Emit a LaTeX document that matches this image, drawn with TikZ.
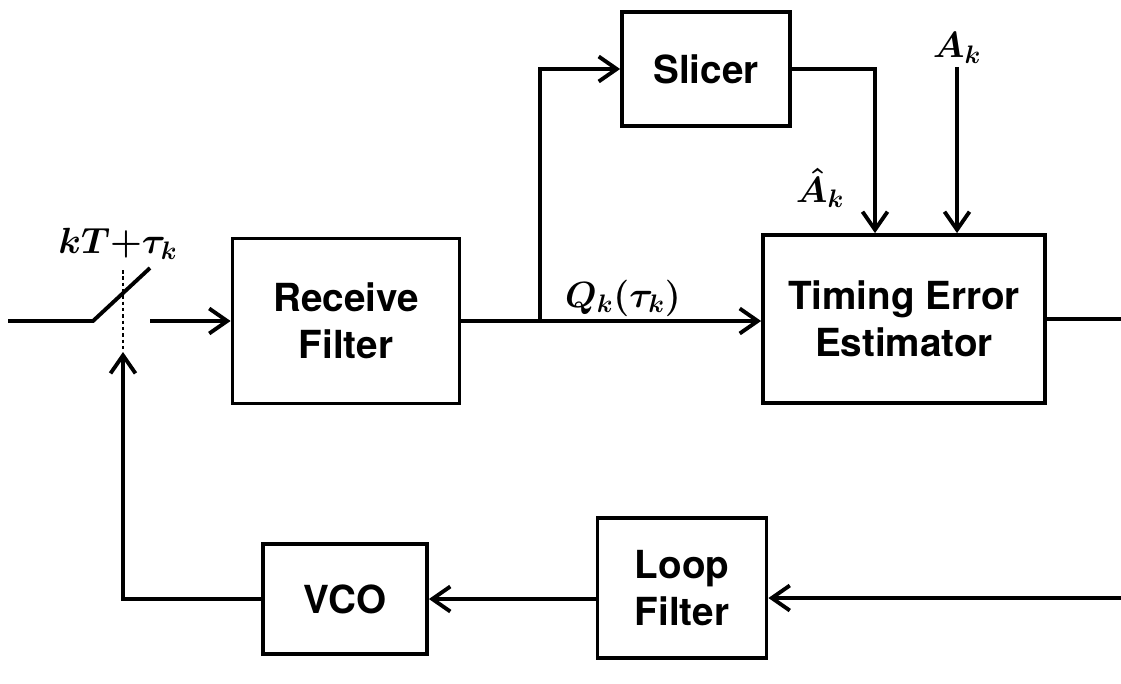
\documentclass[tikz,border=0pt]{standalone}
\usepackage{fontspec}
\setsansfont{TeX Gyre Heros}
\usetikzlibrary{arrows.meta}

\begin{document}
\begin{tikzpicture}[
  x=0.02cm, y=-0.02cm,
  line width=2.2pt,
  block/.style={
    rectangle,
    draw,
    line width=2.2pt,
    align=center,
    font=\sffamily\bfseries\fontsize{22}{27}\selectfont,
    inner sep=4pt
  },
  lbl/.style={font=\fontsize{20.74}{24}\selectfont\boldmath, inner sep=1pt},
  sig/.style={-{Straight Barb[length=3.6mm, width=5mm]}, line width=2.2pt}
]
  \useasboundingbox (0,0) rectangle (1121,683);

  \node[block, minimum width=4.54cm, minimum height=3.3cm] (rf) at (346,321) {Receive\\Filter};
  \node[block, minimum width=3.36cm, minimum height=2.28cm] (slicer) at (706,69) {Slicer};
  \node[block, minimum width=5.64cm, minimum height=3.36cm] (tee) at (904,319) {Timing Error\\Estimator};
  \node[block, minimum width=3.38cm, minimum height=2.8cm] (lf) at (682,588) {Loop\\Filter};
  \node[block, minimum width=3.28cm, minimum height=2.2cm] (vco) at (345,599) {VCO};

  \node[lbl] (sampl) at (118,244) {$kT{+}\tau_k$};
  \node[lbl] (qk) at (623,298) {$Q_k(\tau_k)$};
  \node[lbl] (ahat) at (820,188) {$\hat{A}_k$};
  \node[lbl] (ak) at (957,48) {$A_k$};

  \coordinate (swin) at (8,321);
  \coordinate (swa) at (93,321);
  \coordinate (swb) at (150,268);
  \coordinate (swtop) at (123,270);
  \coordinate (swbot) at (123,352);
  \coordinate (swout) at (150,321);
  \coordinate (br) at (540,321);
  \coordinate (outR) at (1121,319);
  \coordinate (inR) at (1121,598);

  % sampling switch
  \draw (swin) -- (swa) -- (swb);
  \draw[line width=1.6pt, dash pattern=on 2pt off 1.6pt] (swtop) -- (swbot);

  % forward path
  \draw[sig] (swout) -- (rf.west |- swout);
  \draw[sig] (rf.east |- br) -- (tee.west |- br);
  \draw[sig] (br) |- (slicer.west);
  \draw[sig] (slicer.east) -| ([xshift=-0.58cm]tee.north);
  \draw[sig] (ak.south) -- (ak.south |- tee.north);
  \draw (tee.east) -- (outR);

  % feedback path
  \draw[sig] (inR) -- (lf.east |- inR);
  \draw[sig] (lf.west |- vco.east) -- (vco.east);
  \draw[sig] (vco.west) -| (swbot);

\end{tikzpicture}
\end{document}
